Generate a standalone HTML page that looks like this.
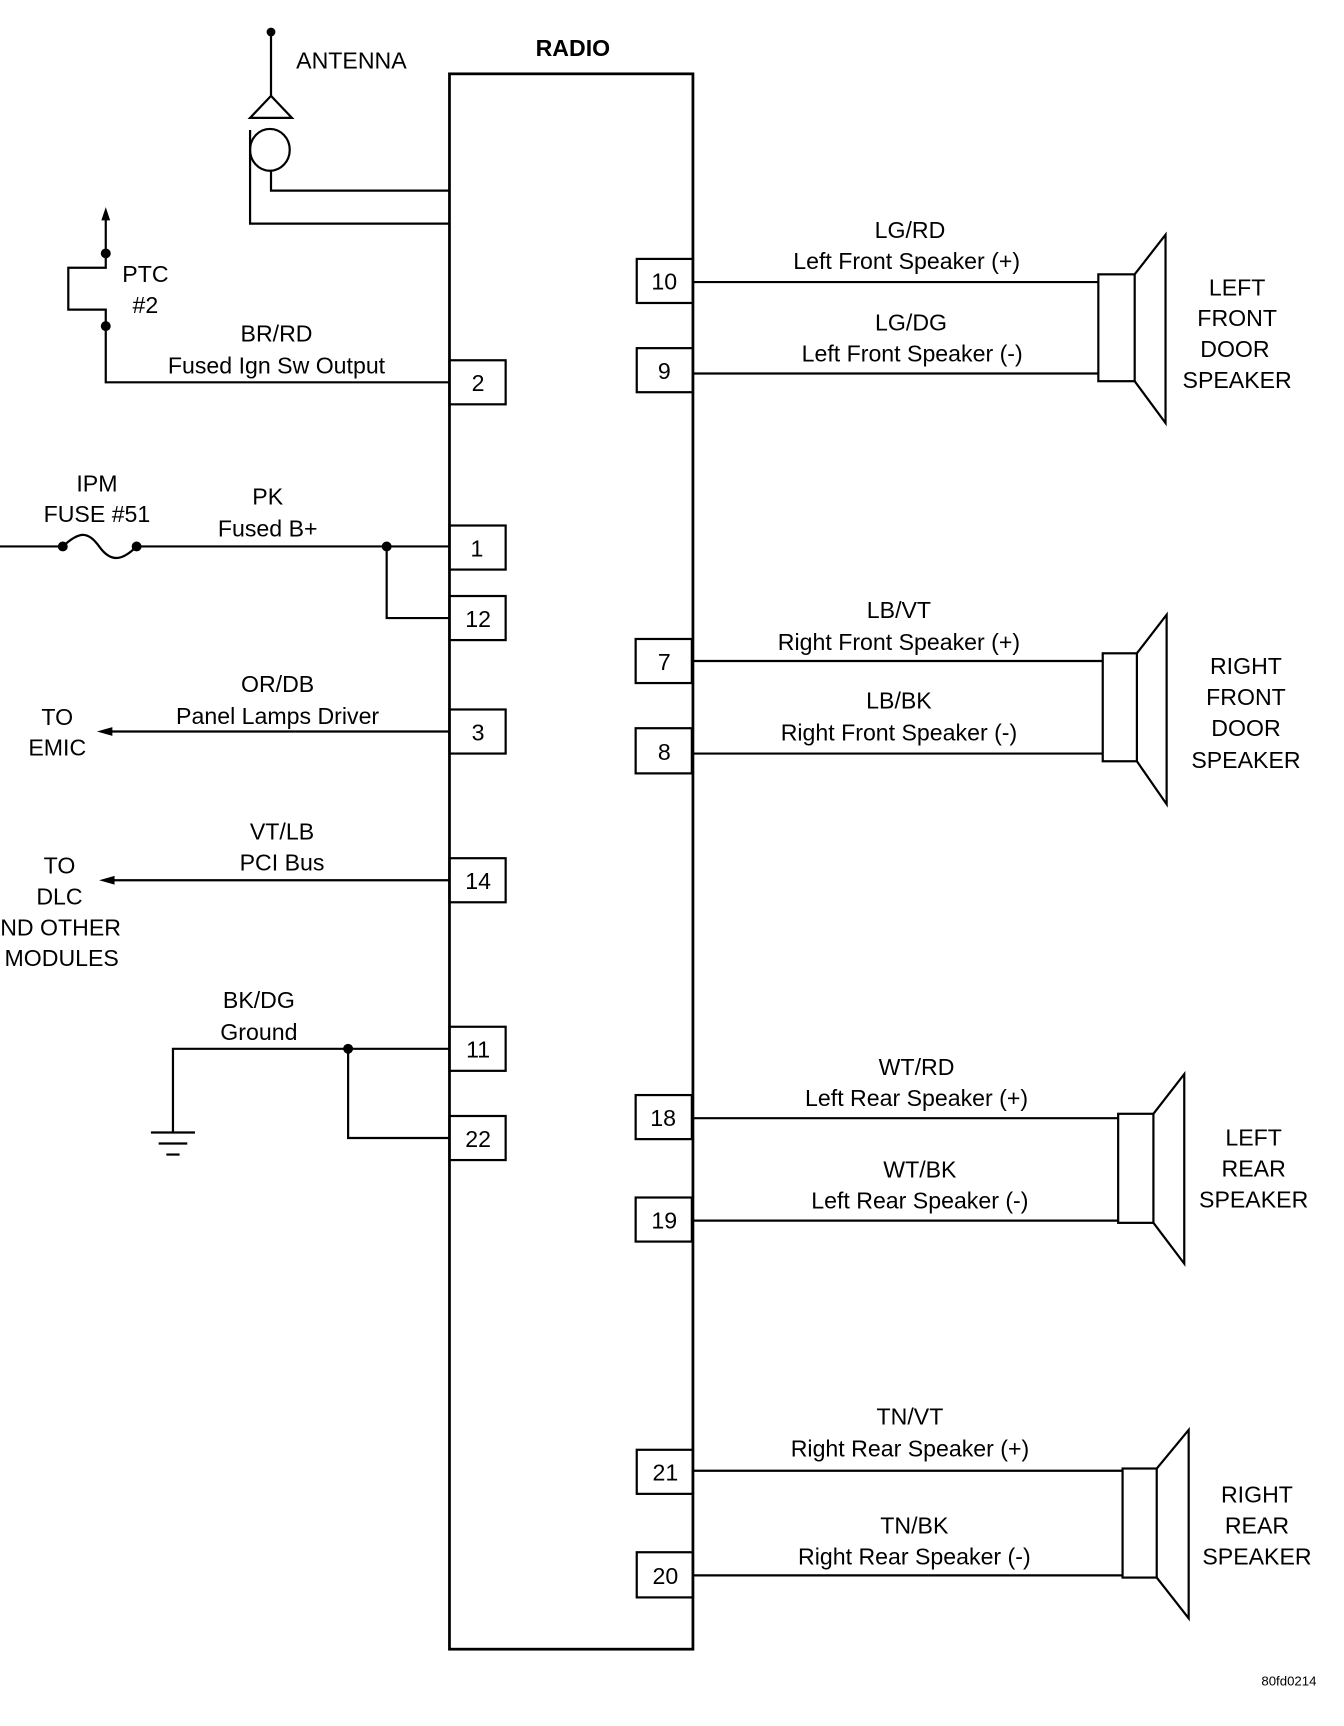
<!DOCTYPE html>
<html><head><meta charset="utf-8"><style>
html,body{margin:0;padding:0;background:#fff;}
svg{display:block;}
text{font-family:"Liberation Sans",sans-serif;font-size:21px;fill:#000;text-anchor:middle;}
</style></head><body>
<svg width="1344" height="1726" viewBox="0 0 1220 1566.7" xmlns="http://www.w3.org/2000/svg">
<g stroke="#000" stroke-width="2" fill="none">
<rect x="408" y="67" width="221" height="1430" stroke-width="2.5"/>
<line x1="246" y1="29" x2="246" y2="87"/>
<polygon points="246,87 227,107 265,107"/>
<ellipse cx="245" cy="136" rx="18" ry="19"/>
<polyline points="246,155 246,173 408,173"/>
<polyline points="227,118 227,203 408,203"/>
<line x1="96" y1="195" x2="96" y2="230"/>
<polyline points="96,230 96,243 62,243 62,281 96,281 96,296"/>
<polyline points="96,296 96,347 408,347"/>
<line x1="0" y1="496" x2="57" y2="496"/>
<path d="M57,496 C72,482 80,482 90,496 C100,510 110,510 124,496"/>
<line x1="124" y1="496" x2="408" y2="496"/>
<polyline points="351,496 351,561 408,561"/>
<line x1="100" y1="664" x2="408" y2="664"/>
<line x1="102" y1="799" x2="408" y2="799"/>
<polyline points="408,952 157,952 157,1028"/>
<polyline points="316,952 316,1033 408,1033"/>
<line x1="137" y1="1028" x2="177" y2="1028"/>
<line x1="144" y1="1038" x2="170" y2="1038"/>
<line x1="151" y1="1048" x2="163" y2="1048"/>
<rect x="408" y="327" width="51" height="40"/>
<rect x="408" y="477" width="51" height="40"/>
<rect x="408" y="541" width="51" height="40"/>
<rect x="408" y="644" width="51" height="40"/>
<rect x="408" y="779" width="51" height="40"/>
<rect x="408" y="932" width="51" height="40"/>
<rect x="408" y="1013" width="51" height="40"/>
<rect x="578" y="235" width="51" height="40"/>
<rect x="578" y="316" width="51" height="40"/>
<rect x="577" y="580" width="51" height="40"/>
<rect x="577" y="661" width="51" height="41"/>
<rect x="577" y="994" width="51" height="40"/>
<rect x="577" y="1087" width="51" height="40"/>
<rect x="578" y="1316" width="51" height="40"/>
<rect x="578" y="1409" width="51" height="41"/>
<line x1="629" y1="256" x2="997" y2="256"/>
<line x1="629" y1="339" x2="997" y2="339"/>
<line x1="629" y1="600" x2="1001" y2="600"/>
<line x1="629" y1="684" x2="1001" y2="684"/>
<line x1="629" y1="1015" x2="1015" y2="1015"/>
<line x1="629" y1="1108" x2="1015" y2="1108"/>
<line x1="629" y1="1335" x2="1019" y2="1335"/>
<line x1="629" y1="1430" x2="1019" y2="1430"/>
<rect x="997" y="249" width="33" height="97"/>
<polyline points="1030,249 1058,213 1058,384 1030,346"/>
<rect x="1001" y="593" width="31" height="98"/>
<polyline points="1032,593 1059,558 1059,730 1032,691"/>
<rect x="1015" y="1011" width="32" height="99"/>
<polyline points="1047,1011 1075,975 1075,1147 1047,1110"/>
<rect x="1019" y="1333" width="31" height="99"/>
<polyline points="1050,1333 1079,1298 1079,1469 1050,1432"/>
</g>
<g fill="#000">
<circle cx="246" cy="29" r="4"/>
<circle cx="96" cy="230" r="4.5"/>
<circle cx="96" cy="296" r="4.5"/>
<circle cx="57" cy="496" r="4.5"/>
<circle cx="124" cy="496" r="4.5"/>
<circle cx="351" cy="496" r="4.5"/>
<circle cx="316" cy="952" r="4.5"/>
<polygon points="96,188 92,200 100,200"/>
<polygon points="88,664 102,660 102,668"/>
<polygon points="90,799 104,795 104,803"/>
</g>
<text x="319" y="62">ANTENNA</text>
<text x="520" y="51" style="font-weight:bold">RADIO</text>
<text x="132" y="256">PTC</text>
<text x="132" y="284">#2</text>
<text x="251" y="310">BR/RD</text>
<text x="251" y="339">Fused Ign Sw Output</text>
<text x="88" y="446">IPM</text>
<text x="88" y="474">FUSE #51</text>
<text x="243" y="458">PK</text>
<text x="243" y="487">Fused B+</text>
<text x="252" y="628">OR/DB</text>
<text x="252" y="657">Panel Lamps Driver</text>
<text x="52" y="658">TO</text>
<text x="52" y="686">EMIC</text>
<text x="256" y="762">VT/LB</text>
<text x="256" y="790">PCI Bus</text>
<text x="54" y="793">TO</text>
<text x="54" y="821">DLC</text>
<text x="48" y="849">AND OTHER</text>
<text x="56" y="877">MODULES</text>
<text x="235" y="915">BK/DG</text>
<text x="235" y="944">Ground</text>
<text x="434" y="355">2</text>
<text x="433" y="505">1</text>
<text x="434" y="569">12</text>
<text x="434" y="672">3</text>
<text x="434" y="807">14</text>
<text x="434" y="960">11</text>
<text x="434" y="1041">22</text>
<text x="603" y="263">10</text>
<text x="603" y="344">9</text>
<text x="603" y="608">7</text>
<text x="603" y="690">8</text>
<text x="602" y="1022">18</text>
<text x="603" y="1115">19</text>
<text x="604" y="1344">21</text>
<text x="604" y="1438">20</text>
<text x="826" y="216">LG/RD</text>
<text x="823" y="244">Left Front Speaker (+)</text>
<text x="827" y="300">LG/DG</text>
<text x="828" y="328">Left Front Speaker (-)</text>
<text x="816" y="561">LB/VT</text>
<text x="816" y="590">Right Front Speaker (+)</text>
<text x="816" y="643">LB/BK</text>
<text x="816" y="672">Right Front Speaker (-)</text>
<text x="832" y="976">WT/RD</text>
<text x="832" y="1004">Left Rear Speaker (+)</text>
<text x="835" y="1069">WT/BK</text>
<text x="835" y="1097">Left Rear Speaker (-)</text>
<text x="826" y="1293">TN/VT</text>
<text x="826" y="1322">Right Rear Speaker (+)</text>
<text x="830" y="1392">TN/BK</text>
<text x="830" y="1420">Right Rear Speaker (-)</text>
<text x="1123" y="268">LEFT</text>
<text x="1123" y="296">FRONT</text>
<text x="1121" y="324">DOOR</text>
<text x="1123" y="352">SPEAKER</text>
<text x="1131" y="612">RIGHT</text>
<text x="1131" y="640">FRONT</text>
<text x="1131" y="668">DOOR</text>
<text x="1131" y="697">SPEAKER</text>
<text x="1138" y="1040">LEFT</text>
<text x="1138" y="1068">REAR</text>
<text x="1138" y="1096">SPEAKER</text>
<text x="1141" y="1364">RIGHT</text>
<text x="1141" y="1392">REAR</text>
<text x="1141" y="1420">SPEAKER</text>
<text x="1170" y="1530" style="font-size:12px">80fd0214</text>
</svg>
</body></html>
